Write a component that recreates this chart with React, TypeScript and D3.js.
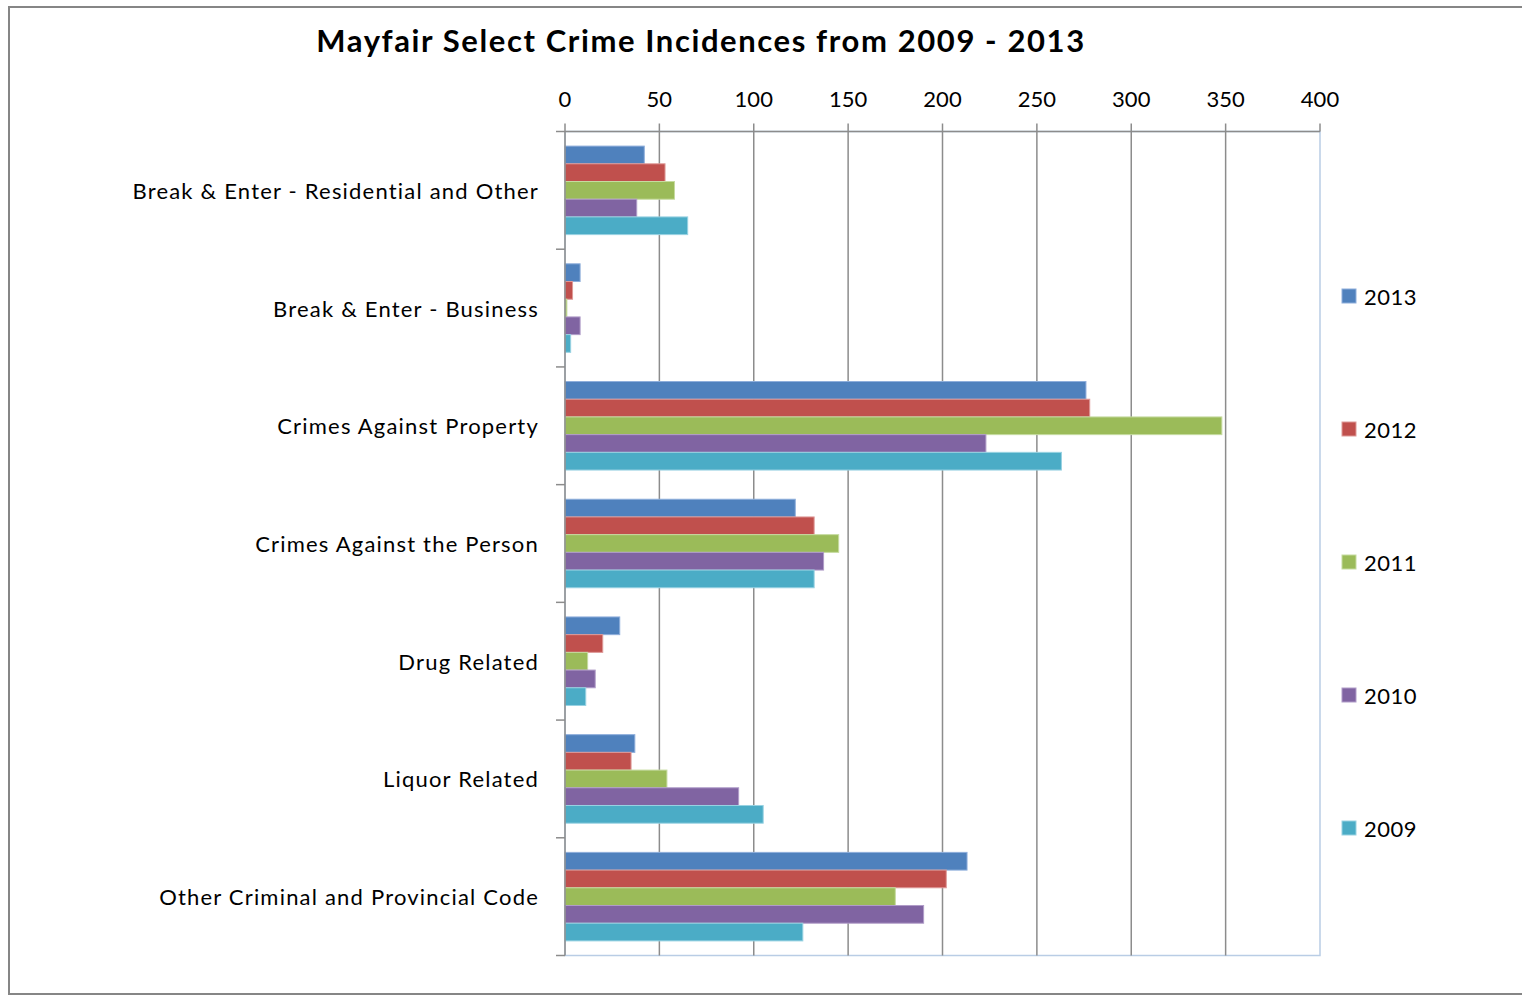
import React from "react";
import * as d3 from "d3";

const categories = [
  "Break & Enter - Residential and Other",
  "Break & Enter - Business",
  "Crimes Against Property",
  "Crimes Against the Person",
  "Drug Related",
  "Liquor Related",
  "Other Criminal and Provincial Code",
];
const seriesNames = ["2013", "2012", "2011", "2010", "2009"];
const values2013 = [42, 8, 276, 122, 29, 37, 213];
const values2012 = [53, 4, 278, 132, 20, 35, 202];
const values2011 = [58, 1, 348, 145, 12, 54, 175];
const values2010 = [38, 8, 223, 137, 16, 92, 190];
const values2009 = [65, 3, 263, 132, 11, 105, 126];
const seriesValues = [values2013, values2012, values2011, values2010, values2009];
const colors = ["#4F81BD", "#C0504D", "#9BBB59", "#8064A2", "#4BACC6"];
const strokes = ["#8EAEDB", "#DE9A98", "#C6DBA0", "#B09CC8", "#98D2E2"];
const xTicks = [0, 50, 100, 150, 200, 250, 300, 350, 400];

const FONT = "Lato, 'Open Sans', sans-serif";

export default function App() {
  const left = 565, right = 1320, top = 131.5, bottom = 955.5;
  const x = d3.scaleLinear().domain([0, 400]).range([left, right]);
  const y = d3.scaleBand<string>().domain(categories).range([top, bottom]).paddingInner(0.248).paddingOuter(0.124);
  const ys = d3.scaleBand<string>().domain(seriesNames).range([0, y.bandwidth()]);
  const step = y.step();
  const legendY = d3.scalePoint<string>().domain(seriesNames).range([296, 828]);

  return (
    <svg width={1522} height={995} style={{ position: "absolute", left: 0, top: 0, display: "block", background: "#fff" }}>
      <rect x={9} y={7} width={1530} height={987} fill="#fff" stroke="#868686" strokeWidth={2} />
      <text x={701} y={40} textAnchor="middle" dominantBaseline="central" fontFamily={FONT} fontWeight="bold" fontSize={31} letterSpacing={1.6} fill="#000">
        Mayfair Select Crime Incidences from 2009 - 2013
      </text>
      {/* plot border */}
      <rect x={left} y={top} width={right - left} height={bottom - top} fill="none" stroke="#B9CDE5" strokeWidth={1.5} />
      {/* gridlines */}
      {xTicks.map((t) => (
        <g key={"g" + t}>
          {t > 0 && t < 400 && <line x1={x(t)} x2={x(t)} y1={top} y2={bottom} stroke="#8C8C8C" strokeWidth={1.5} />}
          <line x1={x(t)} x2={x(t)} y1={top - 8} y2={top} stroke="#8C8C8C" strokeWidth={1.5} />
          <text x={x(t)} y={98} textAnchor="middle" dominantBaseline="central" fontFamily={FONT} fontSize={22} fill="#000">
            {t}
          </text>
        </g>
      ))}
      {/* bars */}
      {categories.map((c, ci) => (
        <g key={c}>
          {seriesNames.map((s, si) => (
            <rect
              key={s}
              x={x(0)}
              y={(y(c) as number) + (ys(s) as number)}
              width={x(seriesValues[si][ci]) - x(0)}
              height={ys.bandwidth()}
              fill={colors[si]}
              stroke={strokes[si]}
              strokeWidth={1}
            />
          ))}
          <text
            x={539}
            y={(y(c) as number) + y.bandwidth() / 2}
            textAnchor="end"
            dominantBaseline="central"
            fontFamily={FONT}
            fontSize={22}
            letterSpacing={1.2}
            fill="#000"
          >
            {c}
          </text>
        </g>
      ))}
      {/* axes */}
      <line x1={left} x2={right} y1={top} y2={top} stroke="#8C8C8C" strokeWidth={1.5} />
      <line x1={left} x2={left} y1={top} y2={bottom} stroke="#8C8C8C" strokeWidth={1.5} />
      {d3.range(categories.length + 1).map((i) => (
        <line key={"t" + i} x1={left - 9} x2={left} y1={top + i * step} y2={top + i * step} stroke="#8C8C8C" strokeWidth={1.5} />
      ))}
      {/* legend */}
      {seriesNames.map((s, si) => (
        <g key={"l" + s}>
          <rect x={1342} y={(legendY(s) as number) - 7} width={14} height={14} fill={colors[si]} stroke={strokes[si]} strokeWidth={1} />
          <text x={1364} y={legendY(s) as number} dominantBaseline="central" fontFamily={FONT} fontSize={22} letterSpacing={0.5} fill="#000">
            {s}
          </text>
        </g>
      ))}
    </svg>
  );
}
